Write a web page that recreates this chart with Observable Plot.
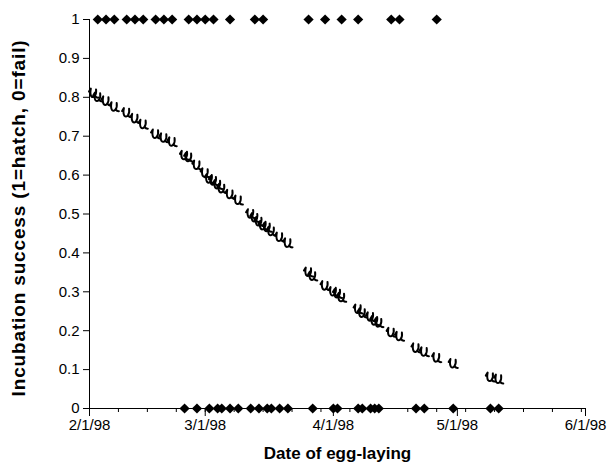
<!DOCTYPE html>
<html>
<head>
<meta charset="utf-8">
<script src="https://cdn.jsdelivr.net/npm/d3@7"></script>
<script src="https://cdn.jsdelivr.net/npm/@observablehq/plot@0.6"></script>
<style>
  html, body { margin: 0; padding: 0; background: #fff; }
  #chart { width: 613px; height: 472px; }
</style>
</head>
<body>
<div id="chart"></div>
<script>
// Nests that hatched (plotted at 1)
const hatchDates = ["1998-02-03","1998-02-05","1998-02-07","1998-02-10","1998-02-12","1998-02-14",
  "1998-02-17","1998-02-19","1998-02-21","1998-02-25","1998-02-27","1998-03-01","1998-03-03",
  "1998-03-07","1998-03-13","1998-03-15","1998-03-26","1998-03-30","1998-04-03","1998-04-07",
  "1998-04-15","1998-04-17","1998-04-26"];
// Nests that failed (plotted at 0)
const failDates = ["1998-02-24","1998-02-27","1998-03-02","1998-03-04","1998-03-05","1998-03-07",
  "1998-03-09","1998-03-12","1998-03-14","1998-03-16","1998-03-17","1998-03-19","1998-03-21",
  "1998-03-27","1998-04-01","1998-04-02","1998-04-07","1998-04-08","1998-04-10","1998-04-11",
  "1998-04-12","1998-04-21","1998-04-23","1998-04-30","1998-05-09","1998-05-11"];
// Predicted hatching probability (logistic fit) for each laying date
const predDates = ["1998-02-02","1998-02-03","1998-02-05","1998-02-07","1998-02-10","1998-02-12","1998-02-14",
  "1998-02-17","1998-02-19","1998-02-21","1998-02-24","1998-02-25","1998-02-27","1998-03-01",
  "1998-03-02","1998-03-03","1998-03-04","1998-03-05","1998-03-07","1998-03-09","1998-03-12",
  "1998-03-13","1998-03-14","1998-03-15","1998-03-16","1998-03-17","1998-03-19","1998-03-21",
  "1998-03-26","1998-03-27","1998-03-30","1998-04-01","1998-04-02","1998-04-03","1998-04-07",
  "1998-04-08","1998-04-10","1998-04-11","1998-04-12","1998-04-15","1998-04-17","1998-04-21",
  "1998-04-23","1998-04-26","1998-04-30","1998-05-09","1998-05-11"];
const predValues = [0.81,0.80,0.79,0.775,0.76,0.745,0.73,
  0.705,0.695,0.685,0.65,0.645,0.625,0.605,
  0.59,0.585,0.575,0.565,0.55,0.535,0.50,
  0.49,0.48,0.47,0.465,0.455,0.44,0.425,
  0.35,0.34,0.315,0.30,0.295,0.285,0.255,
  0.245,0.235,0.225,0.22,0.195,0.185,0.155,
  0.145,0.13,0.115,0.08,0.075];
const monthTicks = ["1998-02-01","1998-03-01","1998-04-01","1998-05-01","1998-06-01"];
const monthLabels = ["2/1/98","3/1/98","4/1/98","5/1/98","6/1/98"];
const yTicks = [0,0.1,0.2,0.3,0.4,0.5,0.6,0.7,0.8,0.9,1];
const yLabels = ["0","0.1","0.2","0.3","0.4","0.5","0.6","0.7","0.8","0.9","1"];
const xTitle = "Date of egg-laying";
const yTitle = "Incubation success (1=hatch, 0=fail)";

const parse = s => new Date(s + "T00:00:00Z");
const hatch = hatchDates.map(d => ({date: parse(d), v: 1}));
const fail = failDates.map(d => ({date: parse(d), v: 0}));
const pred = predDates.map((d, i) => ({date: parse(d), v: predValues[i]}));
const majorTicks = monthTicks.map(parse);
const minorTicks = d3.utcSunday.range(parse("1998-02-01"), parse("1998-06-02"));
const labelOf = new Map(monthTicks.map((d, i) => [+parse(d), monthLabels[i]]));
const yLabelOf = new Map(yTicks.map((d, i) => [d, yLabels[i]]));

// custom marker resembling the curly glyph of the fitted series
const glyph = {
  draw(ctx) {
    ctx.moveTo(-4.6, -1.8);
    ctx.lineTo(-2.8, -4.8);
    ctx.quadraticCurveTo(-3.8, 0.5, -2.4, 2.8);
    ctx.quadraticCurveTo(-0.6, 4.8, 1.2, 2.4);
    ctx.quadraticCurveTo(3.0, 0.2, 2.4, -4.0);
    ctx.moveTo(1.2, 2.4);
    ctx.quadraticCurveTo(2.8, 4.4, 4.6, 4.2);
  }
};

const chart = Plot.plot({
  width: 613,
  height: 472,
  marginLeft: 89,
  marginRight: 28,
  marginTop: 19,
  marginBottom: 64,
  style: {fontFamily: "'Liberation Sans', Arial, sans-serif", fontSize: "15px", color: "black", background: "white"},
  x: {type: "utc", domain: [parse("1998-02-01"), parse("1998-06-01")]},
  y: {domain: [0, 1]},
  marks: [
    Plot.axisX({ticks: minorTicks, tickSize: 4, tickFormat: () => "", strokeWidth: 1, strokeOpacity: 1}),
    Plot.axisX({ticks: majorTicks, tickSize: 8, tickPadding: 3, tickFormat: d => labelOf.get(+d), strokeOpacity: 1, fontSize: 15, label: null}),
    Plot.axisY({ticks: yTicks, tickSize: 6, tickPadding: 4, tickFormat: d => yLabelOf.get(d), strokeOpacity: 1, fontSize: 15, label: null}),
    Plot.ruleX([0], {x: () => parse("1998-02-01"), y1: 0, y2: 1, stroke: "black"}),
    Plot.ruleY([0], {stroke: "black"}),
    Plot.dot(pred, {x: "date", y: "v", symbol: glyph, fill: "none", stroke: "black", strokeWidth: 2, strokeLinecap: "round", strokeLinejoin: "round"}),
    Plot.dot(hatch, {x: "date", y: "v", symbol: "diamond2", r: 4.6, fill: "black", stroke: "none"}),
    Plot.dot(fail, {x: "date", y: "v", symbol: "diamond2", r: 4.6, fill: "black", stroke: "none"}),
    Plot.text([xTitle], {frameAnchor: "bottom", dy: 50, text: d => d, fontWeight: "bold", fontSize: 17}),
    Plot.text([yTitle], {frameAnchor: "left", dx: -71, dy: 4, rotate: -90, textAnchor: "middle", text: d => d, fontWeight: "bold", fontSize: 19})
  ]
});
d3.select(chart).selectAll("text").filter(function() { return this.textContent === yTitle; })
  .style("letter-spacing", "0.85px");
document.getElementById("chart").appendChild(chart);
</script>
</body>
</html>
